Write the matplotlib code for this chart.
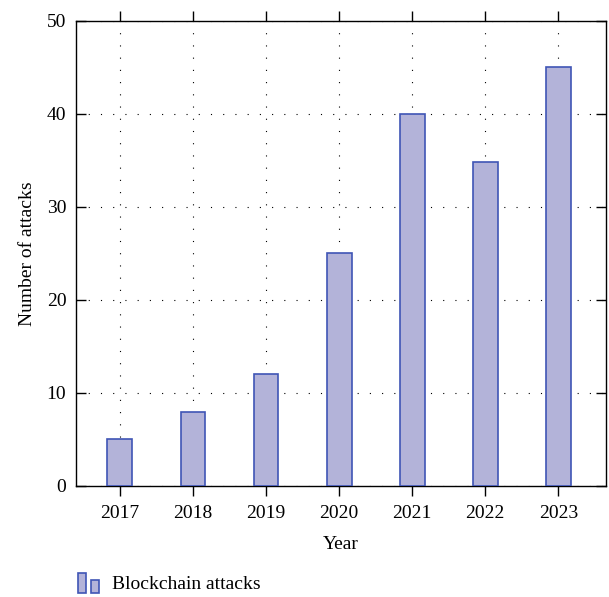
import numpy as np
import matplotlib.pyplot as plt
from matplotlib.patches import Rectangle
from matplotlib.legend_handler import HandlerBase

# Data
years = [2017, 2018, 2019, 2020, 2021, 2022, 2023]
attacks = [5, 8, 12, 25, 40, 34.8, 45]

plt.rcParams['font.family'] = ['Liberation Serif', 'DejaVu Serif']
plt.rcParams['font.size'] = 14

fill = '#b3b3d9'
edge = '#3f55b5'


class TwoBoxHandler(HandlerBase):
    # legend icon: one tall box and one short box side by side
    def create_artists(self, legend, orig_handle, xd, yd, width, height, fontsize, trans):
        w = width * 0.38
        big = Rectangle((xd, yd - height * 0.3), w, height * 1.45,
                        facecolor=fill, edgecolor=edge, lw=1.2, transform=trans)
        small = Rectangle((xd + w + width * 0.2, yd - height * 0.3), w, height * 0.95,
                          facecolor=fill, edgecolor=edge, lw=1.2, transform=trans)
        return [big, small]


fig = plt.figure(figsize=(6.09, 5.97), dpi=100)
ax = fig.add_axes([0.1248, 0.186, 0.870, 0.779])

bars = ax.bar(years, attacks, width=0.34, color=fill, edgecolor=edge,
              linewidth=1.2, zorder=3, label='Blockchain attacks')

ax.set_xlim(2016.4, 2023.65)
ax.set_ylim(0, 50)
ax.set_xticks(years)
ax.set_yticks([0, 10, 20, 30, 40, 50])

ax.grid(True, linestyle=(0, (1, 10)), color='black', linewidth=0.8, zorder=0)
ax.set_axisbelow(True)

ax.tick_params(axis='x', direction='out', top=True, length=7, width=1, pad=7)
ax.tick_params(axis='y', direction='in', right=True, length=7, width=1, pad=7)
for s in ax.spines.values():
    s.set_linewidth(1.0)

ax.set_xlabel('Year', labelpad=10)
ax.set_ylabel('Number of attacks', labelpad=8)

fig.legend(handles=[bars], labels=['Blockchain attacks'],
           handler_map={type(bars): TwoBoxHandler()},
           loc='lower left', bbox_to_anchor=(0.128, 0.007), frameon=False,
           borderaxespad=0, borderpad=0,
           handlelength=1.15, handletextpad=0.6)

fig.savefig('out.png', dpi=100)
